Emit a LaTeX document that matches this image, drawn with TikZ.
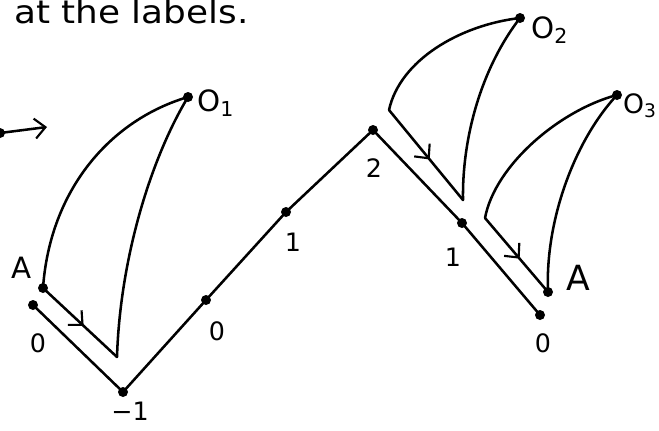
\documentclass[tikz,border=0pt]{standalone}
\usepackage{fontspec}
\setmainfont{DejaVu Sans}
\usetikzlibrary{arrows.meta,decorations.markings}
\tikzset{
  pen/.style={line width=1.9pt, line cap=round, line join=round},
  dot/.style={circle, fill=black, inner sep=0pt, minimum size=7.5pt},
  barb/.tip={Straight Barb[length=8pt,width=15pt,line width=1.6pt]},
  lab/.style={font=\fontsize{19}{19}\selectfont, inner sep=0pt},
  bigl/.style={font=\fontsize{22}{22}\selectfont, inner sep=0pt},
  midarrow/.style={postaction={decorate}, decoration={markings,
    mark=at position 0.55 with {\arrow{barb}}}}
}
\begin{document}
\begin{tikzpicture}[x=0.75pt,y=-0.75pt]
\useasboundingbox (0,0) rectangle (659,430);
\fill[white] (0,0) rectangle (659,430);
% title text (partly cut off at the top in the reference)
\node[anchor=base west, inner sep=0pt, xscale=1.12, font=\fontsize{24}{24}\selectfont] (title) at (14,23) {at the labels.};
% left stub arrow
\coordinate (s0) at (0,133);
\coordinate (s1) at (47,127);
\node[dot] (sd) at (s0) {};
\draw[pen, -barb] (s0) -- (s1);
% zigzag points
\node[dot] (z0) at (33,305) {};
\node[dot] (zm1) at (123,392) {};
\node[dot] (z0b) at (206,300) {};
\node[dot] (z1) at (286,212) {};
\node[dot] (z2) at (373,130) {};
\node[dot] (z1b) at (462,223) {};
\node[dot] (z0c) at (540,315) {};
\draw[pen] (z0.center) -- (zm1.center) -- (z0b.center) -- (z1.center) -- (z2.center) -- (z1b.center) -- (z0c.center);
% triangle 1
\node[dot] (A1) at (43,288) {};
\node[dot] (O1) at (188,97) {};
\coordinate (B1) at (117,357);
\draw[pen, midarrow] (A1.center) -- (B1);
\draw[pen] (A1.center) .. controls (50,190) and (110,120) .. (O1.center);
\draw[pen] (O1.center) .. controls (150,160) and (120,260) .. (B1);
% triangle 2
\coordinate (P2) at (389,110);
\coordinate (B2) at (463,200);
\node[dot] (O2) at (520,18) {};
\draw[pen, midarrow] (P2) -- (B2);
\draw[pen] (P2) .. controls (400,60) and (460,25) .. (O2.center);
\draw[pen] (O2.center) .. controls (480,70) and (462,140) .. (B2);
% triangle 3
\coordinate (P3) at (485,218);
\node[dot] (A3) at (548,292) {};
\node[dot] (O3) at (617,95) {};
\draw[pen, midarrow] (P3) -- (A3.center);
\draw[pen] (P3) .. controls (495,165) and (560,110) .. (O3.center);
\draw[pen] (O3.center) .. controls (575,140) and (545,220) .. (A3.center);
% labels
\node[bigl] (lA1) at (22,268) {A};
\node[lab] (l0a) at (38,343) {0};
\node[lab] (lm1) at (130,411) {−1};
\node[lab] (l0b) at (217,331) {0};
\node[lab] (l1a) at (293,242) {1};
\node[lab] (l2) at (374,168) {2};
\node[lab] (l1b) at (453,257) {1};
\node[lab] (l0c) at (543,343) {0};
\node[bigl, font=\fontsize{26}{26}\selectfont] (lA3) at (578,278) {A};
\node[bigl, anchor=west] (lO1) at (197,103) {O\textsubscript{1}};
\node[bigl, anchor=west] (lO2) at (531,30) {O\textsubscript{2}};
\node[bigl, anchor=east, font=\fontsize{20}{20}\selectfont] (lO3) at (657,106) {O\textsubscript{3}};
\end{tikzpicture}
\end{document}
